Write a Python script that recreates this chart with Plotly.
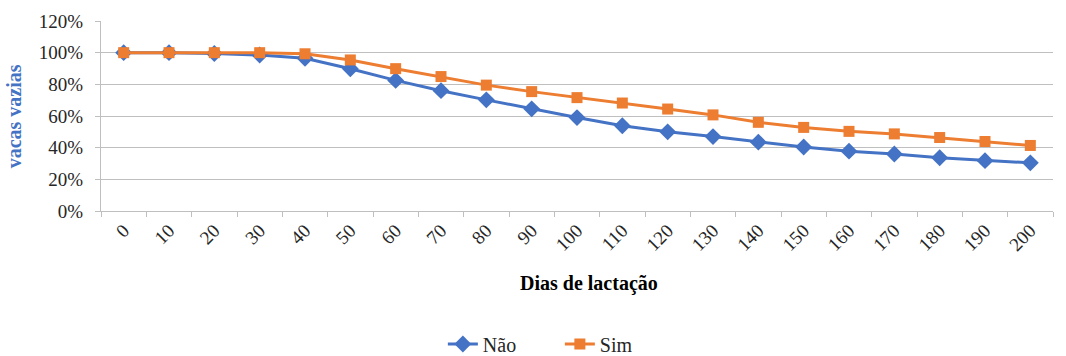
import plotly.graph_objects as go

dias = [str(d) for d in range(0, 201, 10)]
nao = [1.000, 1.000, 0.995, 0.985, 0.965, 0.898, 0.825, 0.760, 0.702, 0.645, 0.590,
       0.538, 0.500, 0.470, 0.435, 0.404, 0.378, 0.360, 0.336, 0.318, 0.304]
sim = [1.000, 1.000, 1.000, 1.000, 0.993, 0.954, 0.899, 0.849, 0.795, 0.754, 0.716,
       0.682, 0.644, 0.607, 0.560, 0.528, 0.503, 0.487, 0.464, 0.439, 0.414]

BLUE = "#4472C4"
ORANGE = "#ED7D31"
GRID = "#BFBFBF"
TEXT = "#262626"
FONT = "Liberation Serif"

fig = go.Figure()
fig.add_trace(go.Scatter(
    x=dias, y=nao, name="Não", mode="lines+markers",
    line=dict(color=BLUE, width=3),
    marker=dict(symbol="diamond", size=13, color=BLUE),
))
fig.add_trace(go.Scatter(
    x=dias, y=sim, name="Sim", mode="lines+markers",
    line=dict(color=ORANGE, width=3),
    marker=dict(symbol="square", size=11, color=ORANGE),
))

fig.update_layout(
    width=1066, height=356,
    margin=dict(l=101, r=13, t=21, b=145, autoexpand=False),
    paper_bgcolor="white", plot_bgcolor="white",
    font=dict(family=FONT, size=19, color=TEXT),
    legend=dict(orientation="h", x=0.482, xanchor="center", y=-0.70, yanchor="middle",
                entrywidth=72, entrywidthmode="pixels",
                font=dict(family=FONT, size=20, color=TEXT)),
    annotations=[
        dict(text="<b>Dias de lactação</b>", xref="paper", yref="paper",
             x=0.513, y=-0.379, xanchor="center", yanchor="middle", showarrow=False,
             font=dict(family=FONT, size=20, color="#000000")),
        dict(text="<b>vacas vazias</b>", xref="paper", yref="paper",
             x=-0.091, y=0.5, xanchor="center", yanchor="middle", showarrow=False,
             textangle=-90, font=dict(family=FONT, size=20, color=BLUE)),
    ],
)

fig.update_xaxes(
    type="category", range=[-0.5, 20.5], tickson="boundaries", ticks="outside",
    ticklen=5, tickcolor=GRID, showline=True, linecolor=GRID, linewidth=1,
    showgrid=False, tickangle=-45,
    tickfont=dict(family=FONT, size=19, color=TEXT),
)
fig.update_yaxes(
    range=[0, 1.2], dtick=0.2, tickformat=".0%", ticks="outside", ticklen=5,
    ticklabelstandoff=8,
    tickcolor=GRID, showline=True, linecolor=GRID, linewidth=1,
    showgrid=True, gridcolor=GRID, gridwidth=1, zeroline=False,
    tickfont=dict(family=FONT, size=19, color=TEXT),
)

fig.write_html("out.html")
